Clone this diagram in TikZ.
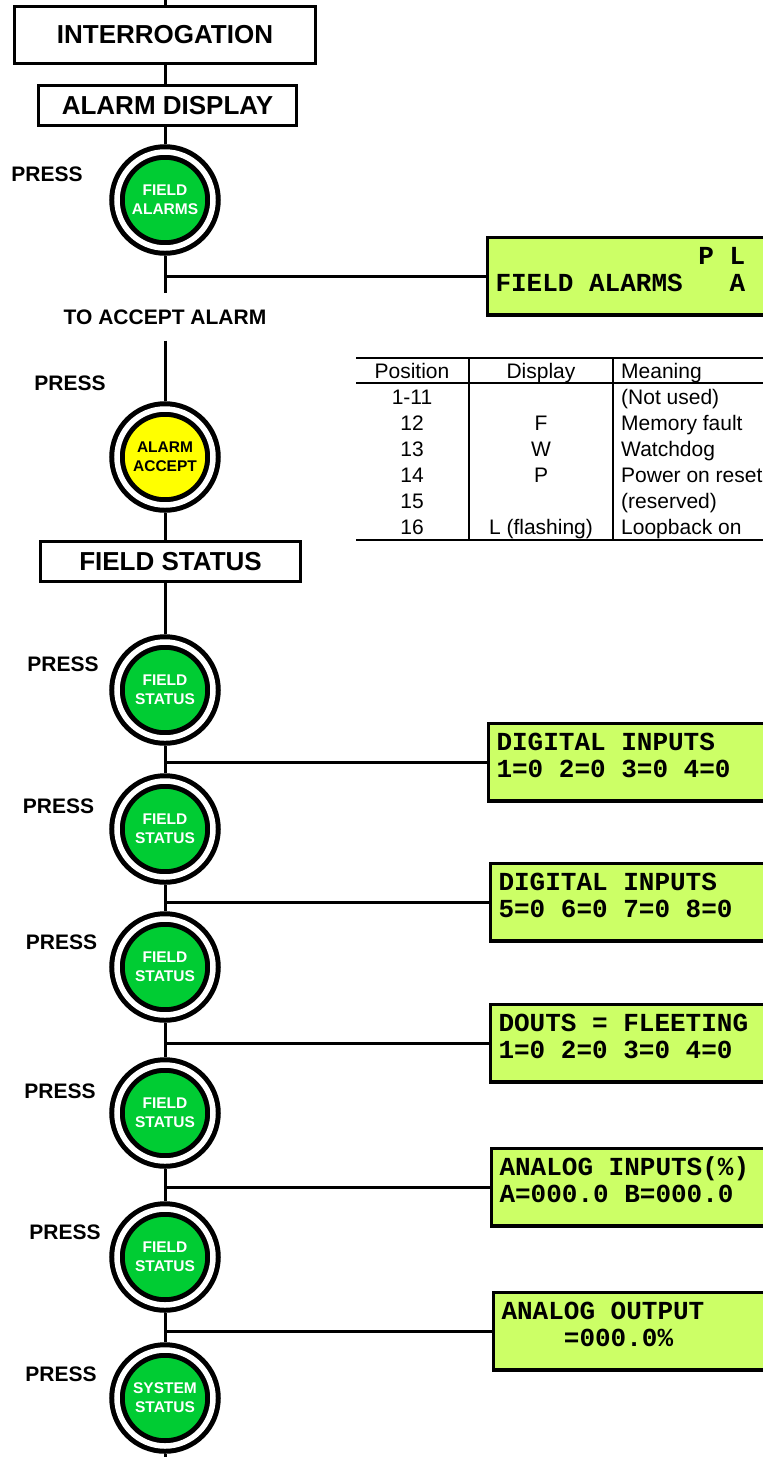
\documentclass[tikz,border=0pt]{standalone}
\usepackage{fontspec}
\setmainfont{Liberation Sans}
\newfontfamily\lcdfamily{Liberation Mono}
\newcommand\lcdspacing{\spaceskip=15.6pt\relax\xspaceskip=15.6pt\relax}

\definecolor{btngreen}{RGB}{0,204,51}
\definecolor{btnyellow}{RGB}{255,255,0}
\definecolor{lcdback}{RGB}{204,255,102}

\tikzset{
  stage/.style={draw, line width=3pt, inner sep=0pt, font=\bfseries\fontsize{26}{30}\selectfont},
  button/.style={circle, draw=black, fill=btngreen, line width=5pt, double=white, double distance=5.5pt,
    minimum size=96pt, inner sep=0pt, outer sep=7.75pt, align=center, text=white,
    font=\bfseries\fontsize{15.5}{19}\selectfont},
  press/.style={inner sep=0pt, font=\bfseries\fontsize{21}{25}\selectfont},
  lcd/.style={draw, fill=lcdback, line width=3.5pt, anchor=north west, minimum height=77.5pt,
    text width=300pt, inner xsep=8pt, inner ysep=0pt, text height=20pt, text depth=44pt,
    align=left, font=\lcdfamily\bfseries\fontsize{26}{27}\selectfont,
    execute at begin node=\lcdspacing},
  wire/.style={line width=3pt},
  cell/.style={inner sep=0pt, font=\fontsize{21}{25}\selectfont},
  tablerule/.style={line width=1.2pt}
}

\begin{document}
\begin{tikzpicture}[x=1pt,y=-1pt]
\useasboundingbox (0,0) rectangle (763,1457);
\clip (0,0) rectangle (763,1457);
\coordinate (spine) at (165,0);
\coordinate (floor) at (165,1457);

% stage boxes
\node[stage, minimum width=301pt, minimum height=57pt] (interrog) at (165,35) {INTERROGATION};
\node[stage, minimum width=258pt, minimum height=40pt] (almdisp) at (167.5,105.5) {ALARM DISPLAY};
\node[stage, minimum width=260pt, minimum height=40pt] (fldstat) at (170.5,561.5) {FIELD STATUS};

% push buttons
\node[button] (fldalm) at (165,200) {FIELD\\ALARMS};
\node[button, fill=btnyellow, text=black] (almacc) at (165,457) {ALARM\\ACCEPT};
\foreach \n/\y in {1/690,2/829,3/967,4/1113,5/1257}
  \node[button] (fs\n) at (165,\y) {FIELD\\STATUS};
\node[button] (sysstat) at (165,1398) {SYSTEM\\STATUS};

% press labels
\foreach \n/\x/\y in {0/47/174,1/70/383,2/63/664,3/58.5/806,4/61.5/942.5,5/60/1091,6/65/1232.5,7/61/1374.5}
  \node[press] (press\n) at (\x,\y) {PRESS};
\node[press, minimum height=47pt] (toacc) at (165,317) {TO ACCEPT ALARM};

% displays
\node[lcd] (lcd1) at (485.75,235.75) {\hphantom{XXXXXXXXXXXXX}P L\\FIELD ALARMS\hphantom{XXX}A};
\node[lcd] (lcd2) at (486.75,721.75) {DIGITAL INPUTS\\1=0 2=0 3=0 4=0};
\node[lcd] (lcd3) at (488.75,861.75) {DIGITAL INPUTS\\5=0 6=0 7=0 8=0};
\node[lcd] (lcd4) at (488.75,1002.75) {DOUTS = FLEETING\\1=0 2=0 3=0 4=0};
\node[lcd] (lcd5) at (489.75,1146.75) {ANALOG INPUTS(\%)\\A=000.0 B=000.0};
\node[lcd] (lcd6) at (491.75,1290.75) {ANALOG OUTPUT\\\hphantom{XXXX}=000.0\%};

% alarm table
\draw[tablerule] (356,358) -- (763,358);
\draw[tablerule] (356,383) -- (763,383);
\draw[tablerule] (356,540) -- (763,540);
\draw[tablerule] (469,358) -- (469,540);
\draw[tablerule] (613,358) -- (613,540);
\node[cell, anchor=base] (hpos) at (412,378.5) {Position};
\node[cell, anchor=base] (hdisp) at (541,378.5) {Display};
\node[cell, anchor=base west] (hmean) at (621,378.5) {Meaning};
\foreach \p/\d/\m [count=\r from 0] in {{1-11}/{}/{(Not used)},{12}/{F}/{Memory fault},
    {13}/{W}/{Watchdog},{14}/{P}/{Power on reset},{15}/{}/{(reserved)},{16}/{L (flashing)}/{Loopback on}}{
  \node[cell, anchor=base] (pos\r) at (412,404.5+26*\r) {\p};
  \node[cell, anchor=base] (disp\r) at (541,404.5+26*\r) {\d};
  \node[cell, anchor=base west] (mean\r) at (621,404.5+26*\r) {\m};
}

% spine
\draw[wire] (spine) -- (interrog.north -| spine);
\foreach \a/\b in {interrog/almdisp,almdisp/fldalm,fldalm/toacc,toacc/almacc,almacc/fldstat,
    fldstat/fs1,fs1/fs2,fs2/fs3,fs3/fs4,fs4/fs5,fs5/sysstat}
  \draw[wire] (\a.south -| spine) -- (\b.north -| spine);
\draw[wire] (sysstat.south) -- (floor);

% branches to displays
\foreach \d in {1,...,6}
  \draw[wire] (lcd\d.west) -- (lcd\d.west -| spine);
\end{tikzpicture}
\end{document}
